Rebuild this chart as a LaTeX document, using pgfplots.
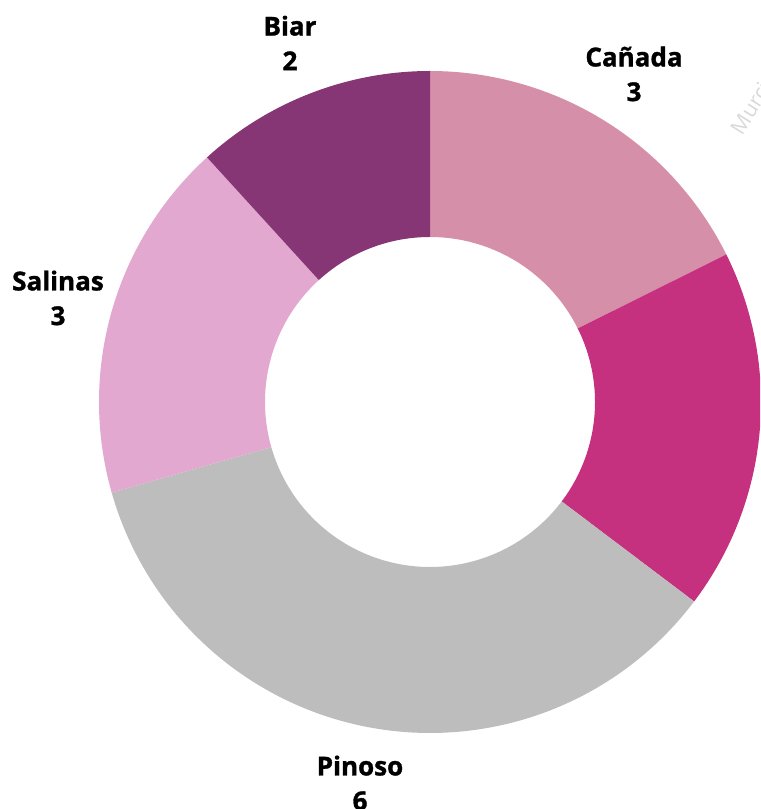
\documentclass[border=0pt]{standalone}
\usepackage{pgfplots}
\pgfplotsset{compat=1.18}
\usepackage{fontspec}
\setmainfont{Open Sans}[BoldFeatures={FakeBold=1.2}]
\definecolor{cCanada}{HTML}{D68FA8}
\definecolor{cMag}{HTML}{C5317F}
\definecolor{cPinoso}{HTML}{BDBDBD}
\definecolor{cSalinas}{HTML}{E3A8CF}
\definecolor{cBiar}{HTML}{863575}
% values: Canada 3, (unlabelled) 3, Pinoso 6, Salinas 3, Biar 2 ; total 17
\def\Tot{17}
\def\Cx{430}\def\Cy{407}\def\Ro{331}\def\Ri{165}
\newcommand\slice[3]{%
  \addplot[fill=#3, draw=none, domain=0:3, samples=301, variable=\s]
  ({\Cx + (\Ro-(\Ro-\Ri)*min(max(\s-1,0),1))*cos(90-360/\Tot*(#1+(#2-#1)*min(\s,1)-(#2-#1)*max(\s-2,0)))},
   {\Cy + (\Ro-(\Ro-\Ri)*min(max(\s-1,0),1))*sin(90-360/\Tot*(#1+(#2-#1)*min(\s,1)-(#2-#1)*max(\s-2,0)))}) -- cycle;
}
\begin{document}
\begin{tikzpicture}
\begin{axis}[
  x=0.75pt, y=0.75pt, scale only axis,
  xmin=0, xmax=760, ymin=0, ymax=809,
  hide axis, clip=true,
]
\addplot[draw=none, forget plot] coordinates {(0,0) (760,809)};
\node[rotate=58, text=gray!30, font=\fontsize{16}{16}\selectfont, anchor=west] at (axis cs:733,673) {Murcia};
\slice{0}{3}{cCanada}
\slice{3}{6}{cMag}
\slice{6}{12}{cPinoso}
\slice{12}{15}{cSalinas}
\slice{15}{17}{cBiar}
\tikzset{lab/.style={font=\bfseries\fontsize{19.5}{26}\selectfont, align=center}}
\node[lab] at (axis cs:290,766) {Biar\\2};
\node[lab] at (axis cs:634,735) {Cañada\\3};
\node[lab] at (axis cs:58,511) {Salinas\\3};
\node[lab] at (axis cs:360,26) {Pinoso\\6};
\end{axis}
\end{tikzpicture}
\end{document}
